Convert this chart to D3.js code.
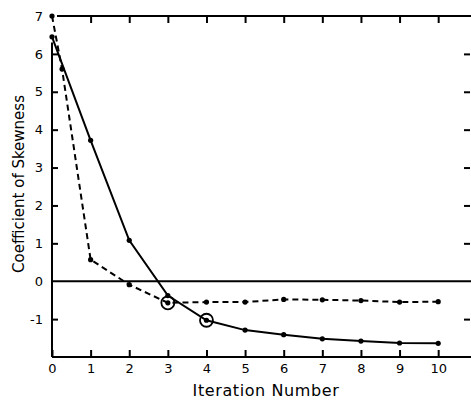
<!DOCTYPE html>
<html><head><meta charset="utf-8">
<script src="https://cdn.jsdelivr.net/npm/d3@7/dist/d3.min.js"></script>
<style>body{margin:0;background:#fff}svg{display:block}</style>
</head><body>
<svg id="c" width="471" height="401"></svg>
<script>
const iterations = [0,1,2,3,4,5,6,7,8,9,10];
const solidValues = [6.45,3.72,1.08,-0.38,-1.03,-1.29,-1.41,-1.52,-1.58,-1.63,-1.64];
const dashedX = [0,0.26,1,2,3,4,5,6,7,8,9,10];
const dashedValues = [7.0,5.6,0.57,-0.09,-0.57,-0.55,-0.55,-0.48,-0.49,-0.51,-0.55,-0.54];
const circled = [{x:3,y:-0.57},{x:4,y:-1.03}];
const yTicks = [-1,0,1,2,3,4,5,6,7];
const xTicks = [0,1,2,3,4,5,6,7,8,9,10];
const xTitle = "Iteration Number";
const yTitle = "Coefficient of Skewness";

(function(){
const svg = d3.select("#c");
const x = d3.scaleLinear().domain([0,10.85]).range([52,471]);
const y = d3.scaleLinear().domain([-2,7]).range([357,16]);
const font = "'DejaVu Sans', sans-serif";

const gBottom = svg.append("g").attr("transform",`translate(0,${y(-2)})`)
  .call(d3.axisBottom(x).tickValues(xTicks).tickSize(-7).tickPadding(7).tickFormat(d3.format("d")));
const gTop = svg.append("g").attr("transform",`translate(0,${y(7)})`)
  .call(d3.axisTop(x).tickValues(xTicks.slice(1)).tickSize(-7).tickFormat(""));
const gLeft = svg.append("g").attr("transform",`translate(${x(0)},0)`)
  .call(d3.axisLeft(y).tickValues(yTicks).tickSize(-6).tickPadding(9).tickFormat(d=>d<0?"-"+Math.abs(d):d));
const gRight = svg.append("g").attr("transform",`translate(${x(10.85)-1},0)`)
  .call(d3.axisRight(y).tickValues(yTicks.filter(d=>d!==0&&d!==7)).tickSize(-6).tickFormat(""));

[gBottom,gTop,gLeft,gRight].forEach(g=>{
  g.select(".domain").attr("stroke","#000").attr("stroke-width",2);
  g.selectAll(".tick line").attr("stroke","#000").attr("stroke-width",2);
  g.selectAll("text").attr("font-family",font).attr("font-size",13).attr("fill","#000");
});
gRight.select(".domain").remove();
gLeft.selectAll(".tick").filter(d=>d===0||d===7).select("line").remove();
gTop.select(".domain").attr("d",`M${x(0)+5},0H${x(10.85)}`);
gBottom.select(".domain").attr("d",`M${x(0)},0H${x(10.85)}`);
gLeft.select(".domain").attr("d",`M0,${y(-2)}V${y(6.3)}`);

svg.append("line").attr("x1",x(0)).attr("x2",x(10.85)).attr("y1",y(0)).attr("y2",y(0))
  .attr("stroke","#000").attr("stroke-width",2);

const line = d3.line().x(d=>x(d[0])).y(d=>y(d[1]));
const solidPts = iterations.map((d,i)=>[d,solidValues[i]]);
const dashedPts = dashedX.map((d,i)=>[d,dashedValues[i]]);

svg.append("path").attr("d",line(dashedPts)).attr("fill","none").attr("stroke","#000")
  .attr("stroke-width",2).attr("stroke-dasharray","6,4");
svg.append("path").attr("d",line(solidPts)).attr("fill","none").attr("stroke","#000")
  .attr("stroke-width",2);

svg.selectAll(".ds").data(dashedPts).enter().append("circle")
  .attr("cx",d=>x(d[0])).attr("cy",d=>y(d[1])).attr("r",2.6).attr("fill","#000");
svg.selectAll(".ss").data(solidPts).enter().append("circle")
  .attr("cx",d=>x(d[0])).attr("cy",d=>y(d[1])).attr("r",2.6).attr("fill","#000");
svg.selectAll(".cc").data(circled).enter().append("circle")
  .attr("cx",d=>x(d.x)).attr("cy",d=>y(d.y)).attr("r",6.5).attr("fill","none")
  .attr("stroke","#000").attr("stroke-width",1.8);

svg.append("text").attr("x",266).attr("y",396).attr("text-anchor","middle")
  .attr("font-family",font).attr("font-size",16).attr("letter-spacing",0.6).text(xTitle);
svg.append("text").attr("transform","translate(24,184) rotate(-90)").attr("text-anchor","middle")
  .attr("font-family",font).attr("font-size",15).text(yTitle);
})();
</script>
</body></html>
